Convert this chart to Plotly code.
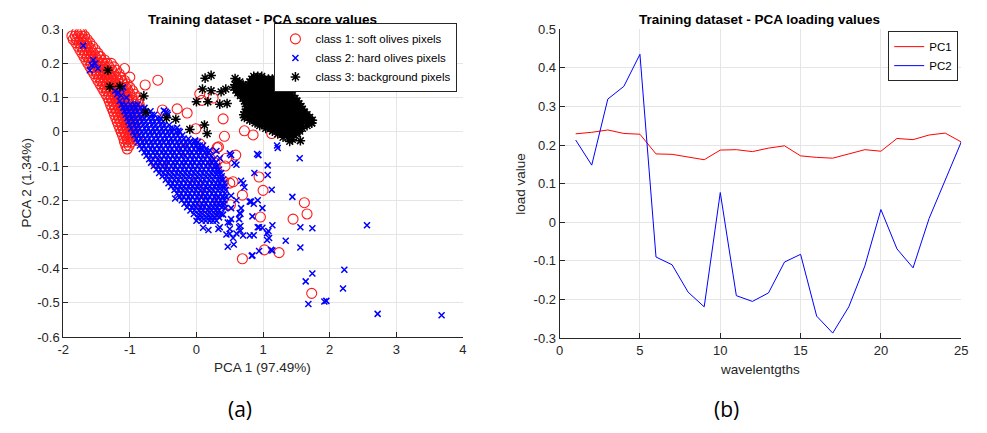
import plotly.graph_objects as go

# ---------------- DATA ----------------
# Class 1 (soft olives) dense band: (PCA2 value, [PCA1 values])
class1_band = [
    (0.29, [-1.80, -1.75, -1.72]),
    (0.28, [-1.87, -1.82, -1.77, -1.72, -1.68]),
    (0.27, [-1.85, -1.80, -1.74, -1.69, -1.64]),
    (0.26, [-1.81, -1.76, -1.70, -1.65, -1.60]),
    (0.25, [-1.78, -1.73, -1.67, -1.62, -1.56]),
    (0.24, [-1.75, -1.70, -1.64, -1.58, -1.52]),
    (0.23, [-1.72, -1.67, -1.61, -1.55, -1.48]),
    (0.22, [-1.69, -1.64, -1.58, -1.52, -1.46, -1.44]),
    (0.21, [-1.66, -1.61, -1.55, -1.49, -1.43, -1.38]),
    (0.20, [-1.63, -1.58, -1.52, -1.46, -1.40, -1.34, -1.28]),
    (0.19, [-1.60, -1.55, -1.49, -1.43, -1.37, -1.31, -1.24]),
    (0.18, [-1.57, -1.52, -1.46, -1.40, -1.34, -1.27, -1.20]),
    (0.17, [-1.54, -1.49, -1.43, -1.37, -1.31, -1.24, -1.16]),
    (0.16, [-1.51, -1.46, -1.40, -1.34, -1.28, -1.21, -1.14]),
    (0.15, [-1.48, -1.43, -1.37, -1.31, -1.25, -1.18, -1.12, -1.08]),
    (0.14, [-1.45, -1.40, -1.34, -1.28, -1.22, -1.16, -1.10, -1.04]),
    (0.13, [-1.42, -1.37, -1.31, -1.25, -1.19, -1.13, -1.06, -1.00]),
    (0.12, [-1.39, -1.34, -1.28, -1.22, -1.16, -1.10, -1.03, -0.96]),
    (0.11, [-1.36, -1.31, -1.25, -1.19, -1.13, -1.07, -1.00, -0.93]),
    (0.10, [-1.33, -1.28, -1.22, -1.16, -1.10, -1.04, -0.97, -0.90]),
    (0.09, [-1.31, -1.26, -1.20, -1.14, -1.08, -1.02, -0.95, -0.88]),
    (0.08, [-1.29, -1.24, -1.18, -1.12, -1.06, -1.00, -0.93, -0.86]),
    (0.07, [-1.27, -1.22, -1.16, -1.10, -1.04, -0.97, -0.91, -0.85]),
    (0.06, [-1.25, -1.20, -1.14, -1.08, -1.02, -0.95, -0.89]),
    (0.05, [-1.23, -1.18, -1.12, -1.06, -1.00, -0.93, -0.87]),
    (0.04, [-1.21, -1.16, -1.10, -1.04, -0.98, -0.92]),
    (0.03, [-1.19, -1.14, -1.08, -1.02, -0.96, -0.90]),
    (0.02, [-1.17, -1.12, -1.06, -1.00, -0.94]),
    (0.01, [-1.15, -1.10, -1.04, -0.98, -0.92]),
    (0.00, [-1.13, -1.08, -1.02, -0.96]),
    (-0.01, [-1.11, -1.06, -1.00, -0.95]),
    (-0.02, [-1.09, -1.04, -0.98]),
    (-0.03, [-1.08, -1.03, -0.98]),
    (-0.04, [-1.06, -1.01]),
    (-0.05, [-1.04]),
]
class1_out_x = [-1.08, -1.00, -0.77, -0.58, -0.51, -0.29, -0.14, -0.01, 0.05, 0.08, 0.25, 0.40,
                0.42, 0.72, 0.85, 1.13, 0.31, 0.59, 0.45, 0.28, 0.94, 0.55, 1.00, 0.69, 0.51,
                1.62, 1.66, 1.45, 0.96, 1.02, 1.24, 0.69, 1.73,
                -1.03, -0.88, -0.61, -0.19, 0.05, 0.20, 0.33, 0.43, 0.40, 0.50, 0.25, 0.35,
                0.15, 0.00, -0.40, 0.10]
class1_out_y = [0.185, 0.160, 0.137, 0.151, 0.064, 0.067, 0.055, 0.009, 0.111, 0.092, 0.099, 0.038,
                -0.013, 0.003, -0.009, -0.005, -0.046, -0.068, -0.077, -0.091, -0.132, -0.146, -0.171, -0.185, -0.213,
                -0.207, -0.240, -0.255, -0.249, -0.345, -0.353, -0.371, -0.472,
                -0.020, -0.025, -0.091, -0.054, -0.035, -0.077, -0.044, -0.100, -0.143, -0.150, -0.240, -0.200,
                -0.180, -0.150, -0.100, -0.220]

# Class 2 (hard olives) dense band
class2_band = [
    (0.08, [-1.12, -1.06, -0.99, -0.93, -0.88]),
    (0.07, [-1.10, -1.04, -0.97, -0.91, -0.84, -0.78]),
    (0.06, [-1.08, -1.02, -0.95, -0.89, -0.82, -0.76, -0.69]),
    (0.05, [-1.06, -0.99, -0.93, -0.86, -0.80, -0.73, -0.67, -0.63]),
    (0.04, [-1.04, -0.97, -0.91, -0.84, -0.78, -0.71, -0.65, -0.58, -0.54]),
    (0.03, [-1.02, -0.95, -0.89, -0.82, -0.76, -0.69, -0.63, -0.56, -0.50]),
    (0.02, [-1.00, -0.93, -0.87, -0.80, -0.74, -0.67, -0.61, -0.54, -0.48, -0.41]),
    (0.01, [-0.98, -0.91, -0.85, -0.78, -0.72, -0.65, -0.59, -0.52, -0.46, -0.39, -0.35]),
    (0.00, [-0.95, -0.89, -0.82, -0.76, -0.69, -0.63, -0.56, -0.50, -0.43, -0.37, -0.30, -0.25]),
    (-0.01, [-0.93, -0.86, -0.80, -0.73, -0.67, -0.60, -0.54, -0.47, -0.41, -0.34, -0.28, -0.21]),
    (-0.02, [-0.90, -0.84, -0.77, -0.71, -0.64, -0.58, -0.51, -0.45, -0.38, -0.32, -0.25, -0.19, -0.12]),
    (-0.03, [-0.88, -0.81, -0.75, -0.68, -0.62, -0.55, -0.49, -0.42, -0.36, -0.29, -0.23, -0.16, -0.10, -0.03, 0.02]),
    (-0.04, [-0.85, -0.79, -0.72, -0.66, -0.59, -0.53, -0.46, -0.40, -0.33, -0.27, -0.20, -0.14, -0.07, -0.01, 0.05, 0.10]),
    (-0.05, [-0.82, -0.76, -0.69, -0.63, -0.56, -0.50, -0.43, -0.37, -0.30, -0.24, -0.17, -0.11, -0.04, 0.02, 0.09, 0.14]),
    (-0.06, [-0.78, -0.72, -0.65, -0.59, -0.52, -0.46, -0.39, -0.33, -0.26, -0.20, -0.13, -0.07, 0.00, 0.06, 0.13, 0.18]),
    (-0.07, [-0.75, -0.69, -0.62, -0.56, -0.49, -0.43, -0.36, -0.30, -0.23, -0.17, -0.10, -0.04, 0.03, 0.09, 0.16, 0.22]),
    (-0.08, [-0.71, -0.65, -0.58, -0.52, -0.45, -0.39, -0.32, -0.26, -0.19, -0.13, -0.06, 0.00, 0.07, 0.13, 0.20, 0.26]),
    (-0.09, [-0.68, -0.61, -0.55, -0.48, -0.42, -0.35, -0.29, -0.22, -0.16, -0.09, -0.03, 0.04, 0.10, 0.17, 0.23, 0.29]),
    (-0.10, [-0.64, -0.58, -0.51, -0.45, -0.38, -0.32, -0.25, -0.19, -0.12, -0.06, 0.01, 0.07, 0.14, 0.20, 0.27, 0.31]),
    (-0.11, [-0.60, -0.54, -0.47, -0.41, -0.34, -0.28, -0.21, -0.15, -0.08, -0.02, 0.05, 0.11, 0.18, 0.24, 0.30, 0.34]),
    (-0.12, [-0.56, -0.50, -0.43, -0.37, -0.30, -0.24, -0.17, -0.11, -0.04, 0.02, 0.09, 0.15, 0.22, 0.28, 0.33, 0.37]),
    (-0.13, [-0.51, -0.45, -0.38, -0.32, -0.25, -0.19, -0.12, -0.06, 0.01, 0.07, 0.14, 0.20, 0.27, 0.33, 0.38]),
    (-0.14, [-0.46, -0.40, -0.33, -0.27, -0.20, -0.14, -0.07, -0.01, 0.06, 0.12, 0.19, 0.25, 0.32, 0.37, 0.40]),
    (-0.15, [-0.42, -0.36, -0.29, -0.23, -0.16, -0.10, -0.03, 0.03, 0.10, 0.16, 0.23, 0.29, 0.35, 0.42]),
    (-0.16, [-0.38, -0.32, -0.25, -0.19, -0.12, -0.06, 0.01, 0.07, 0.14, 0.20, 0.27, 0.33, 0.38, 0.42]),
    (-0.17, [-0.33, -0.27, -0.20, -0.14, -0.07, -0.01, 0.06, 0.12, 0.19, 0.25, 0.32, 0.38, 0.44]),
    (-0.18, [-0.29, -0.23, -0.16, -0.10, -0.03, 0.03, 0.10, 0.16, 0.23, 0.29, 0.36, 0.43]),
    (-0.19, [-0.25, -0.19, -0.12, -0.06, 0.01, 0.07, 0.14, 0.20, 0.27, 0.33, 0.39, 0.44]),
    (-0.20, [-0.22, -0.15, -0.09, -0.02, 0.04, 0.11, 0.17, 0.24, 0.30, 0.36, 0.42]),
    (-0.21, [-0.18, -0.12, -0.05, 0.01, 0.08, 0.14, 0.21, 0.27, 0.33, 0.38, 0.42]),
    (-0.22, [-0.14, -0.07, -0.01, 0.06, 0.12, 0.19, 0.25, 0.31, 0.38]),
    (-0.23, [-0.09, -0.03, 0.04, 0.10, 0.17, 0.23, 0.29, 0.34]),
    (-0.24, [-0.04, 0.03, 0.09, 0.16, 0.22, 0.28, 0.33, 0.37]),
    (-0.25, [0.02, 0.08, 0.15, 0.21, 0.27, 0.34]),
    (-0.26, [0.08, 0.14, 0.20, 0.25, 0.30]),
]
class2_out_x = [-1.70, -1.55, -1.60, -1.48, -1.57, -1.52, -1.19, -1.13, -1.15, -1.10, -1.03, -0.98, -1.22, -1.13,
                -1.17, -1.12, -1.08, -1.05,
                -0.46, -0.43, -0.49, -0.44, -0.29, -0.27, -0.02, 0.05, 0.20, 0.30, 0.35, 0.50, 0.52, 0.57,
                0.60, 0.91, 1.07, 1.07, 0.87, 1.13, 1.21, 1.22, 1.55, 1.44, 0.67, 0.72, 0.80, 0.60, 0.65,
                0.50, 0.35, 0.10, -0.32, 0.45, 0.60, 0.80, 0.94, 0.00, 0.18, 0.33,
                0.92, 0.99, 0.84, 0.92, 0.99, 1.06, 1.09, 1.14, 1.06, 0.84, 0.94, 1.14, 0.86, 0.70, 0.66,
                0.66, 0.56, 0.55, 0.47, 0.50, 0.50, 0.64, 0.64, 0.67, 0.66, 0.70, 0.52, 0.52, 0.40, 0.47,
                0.43, 1.08, 0.52, 0.82, 0.86, 0.93,
                1.56, 1.74, 1.56, 1.34, 2.22, 1.74, 1.64, 2.56, 2.20, 2.72, 3.68, 1.92, 1.95, 1.68, 1.12, 0.83]
class2_out_y = [0.252, 0.210, 0.180, 0.185, 0.195, 0.200, 0.110, 0.106, 0.090, 0.130, 0.069, 0.040, 0.120, 0.125,
                0.115, 0.080, 0.060, 0.100,
                0.059, 0.050, 0.062, 0.055, 0.012, 0.003, -0.025, -0.049, -0.054, -0.056, -0.077, -0.063, -0.068, -0.091,
                -0.096, -0.065, -0.098, -0.126, -0.120, -0.169, -0.040, -0.047, -0.077, -0.190, -0.143, -0.162, -0.204, -0.200, -0.237,
                -0.265, -0.279, -0.280, -0.195, -0.300, -0.297, -0.303, -0.279, -0.260, -0.287, -0.284,
                -0.200, -0.223, -0.247, -0.279, -0.280, -0.296, -0.310, -0.273, -0.316, -0.361, -0.348, -0.347, -0.302, -0.303, -0.289,
                -0.275, -0.329, -0.310, -0.336, -0.298, -0.284, -0.279, -0.255, -0.223, -0.240, -0.150, -0.223, -0.255, -0.242, -0.265,
                -0.223, -0.290, -0.187, -0.204, -0.210, -0.068,
                -0.279, -0.282, -0.338, -0.318, -0.403, -0.414, -0.437, -0.273, -0.458, -0.532, -0.536, -0.496, -0.494, -0.503, -0.345, -0.362]

# Class 3 (background) dense blob
class3_band = [
    (0.162, [0.86, 0.92, 0.98]),
    (0.154, [0.83, 0.89, 0.95, 1.02, 1.08, 1.14, 1.20]),
    (0.146, [0.60, 0.65, 0.80, 0.86, 0.92, 0.99, 1.05, 1.11, 1.18, 1.25]),
    (0.138, [0.58, 0.64, 0.70, 0.78, 0.84, 0.90, 0.96, 1.02, 1.09, 1.15, 1.21, 1.28]),
    (0.130, [0.56, 0.62, 0.68, 0.74, 0.81, 0.87, 0.93, 0.99, 1.06, 1.12, 1.18, 1.25, 1.33]),
    (0.122, [0.59, 0.65, 0.71, 0.78, 0.84, 0.90, 0.96, 1.03, 1.09, 1.15, 1.22, 1.29, 1.37]),
    (0.114, [0.62, 0.68, 0.74, 0.81, 0.87, 0.93, 1.00, 1.06, 1.12, 1.19, 1.26, 1.33, 1.41]),
    (0.106, [0.66, 0.72, 0.78, 0.84, 0.90, 0.97, 1.03, 1.09, 1.16, 1.22, 1.29, 1.36, 1.44]),
    (0.098, [0.70, 0.76, 0.82, 0.88, 0.94, 1.00, 1.07, 1.13, 1.19, 1.26, 1.33, 1.40, 1.48]),
    (0.090, [0.72, 0.78, 0.85, 0.91, 0.97, 1.04, 1.10, 1.16, 1.23, 1.30, 1.37, 1.44, 1.51]),
    (0.082, [0.74, 0.80, 0.87, 0.93, 0.99, 1.06, 1.12, 1.19, 1.26, 1.33, 1.40, 1.47, 1.54]),
    (0.074, [0.75, 0.82, 0.88, 0.95, 1.01, 1.08, 1.14, 1.21, 1.28, 1.35, 1.42, 1.49, 1.57]),
    (0.066, [0.76, 0.83, 0.89, 0.96, 1.02, 1.09, 1.16, 1.23, 1.30, 1.37, 1.44, 1.51, 1.59]),
    (0.058, [0.73, 0.79, 0.86, 0.92, 0.99, 1.05, 1.12, 1.19, 1.26, 1.33, 1.40, 1.47, 1.54, 1.62]),
    (0.050, [0.71, 0.77, 0.84, 0.90, 0.97, 1.03, 1.10, 1.17, 1.24, 1.31, 1.38, 1.45, 1.52, 1.60, 1.66]),
    (0.042, [0.72, 0.79, 0.86, 0.93, 1.00, 1.07, 1.14, 1.21, 1.28, 1.35, 1.42, 1.49, 1.56, 1.64, 1.70]),
    (0.034, [0.80, 0.87, 0.94, 1.01, 1.08, 1.15, 1.22, 1.29, 1.36, 1.43, 1.50, 1.57, 1.65, 1.74]),
    (0.026, [0.88, 0.95, 1.02, 1.09, 1.16, 1.23, 1.30, 1.37, 1.44, 1.51, 1.58, 1.66, 1.73]),
    (0.018, [0.95, 1.02, 1.09, 1.16, 1.23, 1.30, 1.37, 1.44, 1.51, 1.58, 1.66]),
    (0.010, [1.04, 1.11, 1.18, 1.25, 1.32, 1.39, 1.46, 1.53, 1.59]),
    (0.002, [1.14, 1.21, 1.28, 1.35, 1.42, 1.49, 1.55]),
    (-0.006, [1.22, 1.29, 1.36, 1.43, 1.50]),
    (-0.016, [1.30, 1.37, 1.44]),
    (-0.028, [1.40]),
]
class3_out_x = [-1.33, -1.30, -1.15, -0.79, -0.76, -0.45, -0.31, -0.10, 0.12, 0.16, 0.00, 0.09, 0.13,
                0.22, 0.22, 0.17, 0.35, 0.46, 0.37, 0.44, 0.58, 1.44, 1.73, 1.56]
class3_out_y = [0.180, 0.132, 0.133, 0.105, 0.057, 0.041, 0.037, 0.007, 0.020, -0.005, 0.088, 0.125, 0.157,
                0.165, 0.120, 0.088, 0.081, 0.083, 0.117, 0.125, 0.156, -0.022, 0.026, -0.026]

# Loadings
wavelengths = list(range(1, 26))
pc1 = [0.229, 0.233, 0.239, 0.230, 0.228, 0.177, 0.176, 0.169, 0.162, 0.187, 0.188, 0.183, 0.192,
       0.198, 0.172, 0.168, 0.166, 0.177, 0.188, 0.184, 0.217, 0.214, 0.226, 0.231, 0.208]
pc2 = [0.213, 0.148, 0.319, 0.352, 0.435, -0.090, -0.110, -0.181, -0.219, 0.077, -0.190, -0.205, -0.183,
       -0.103, -0.083, -0.243, -0.287, -0.219, -0.113, 0.033, -0.069, -0.118, 0.010, 0.110, 0.208]

left_xticks = [-2, -1, 0, 1, 2, 3, 4]
left_xticktext = ["-2", "-1", "0", "1", "2", "3", "4"]
left_yticks = [0.3, 0.2, 0.1, 0, -0.1, -0.2, -0.3, -0.4, -0.5, -0.6]
left_yticktext = ["0.3", "0.2", "0.1", "0", "-0.1", "-0.2", "-0.3", "-0.4", "-0.5", "-0.6"]
right_xticks = [0, 5, 10, 15, 20, 25]
right_yticks = [0.5, 0.4, 0.3, 0.2, 0.1, 0, -0.1, -0.2, -0.3]
right_yticktext = ["0.5", "0.4", "0.3", "0.2", "0.1", "0", "-0.1", "-0.2", "-0.3"]


def expand(rows, ox, oy):
    xs, ys = [], []
    for yv, row in rows:
        for xv in row:
            xs.append(xv)
            ys.append(yv)
    return xs + ox, ys + oy


c1x, c1y = expand(class1_band, class1_out_x, class1_out_y)
c2x, c2y = expand(class2_band, class2_out_x, class2_out_y)
c3x, c3y = expand(class3_band, class3_out_x, class3_out_y)

# ---------------- FIGURE ----------------
W, H = 987, 433


def fx(p):
    return p / W


def fy(p):
    return 1 - p / H


FONT = "Liberation Sans, Arial, sans-serif"
DARK = "#262626"

fig = go.Figure()
fig.add_trace(go.Scatter(x=c1x, y=c1y, mode="markers", name="class 1: soft olives pixels",
                         marker=dict(symbol="circle-open", size=10, color="#ff1a1a", line=dict(width=1.1, color="#ff1a1a")),
                         xaxis="x", yaxis="y", legend="legend"))
fig.add_trace(go.Scatter(x=c2x, y=c2y, mode="markers", name="class 2: hard olives pixels",
                         marker=dict(symbol="x-thin-open", size=6, color="#0000ff", line=dict(width=1.5, color="#0000ff")),
                         xaxis="x", yaxis="y", legend="legend"))
fig.add_trace(go.Scatter(x=c3x, y=c3y, mode="markers", name="class 3: background pixels",
                         marker=dict(symbol="asterisk-open", size=8, color="#000000", line=dict(width=1.5, color="#000000")),
                         xaxis="x", yaxis="y", legend="legend"))
fig.add_trace(go.Scatter(x=wavelengths, y=pc1, mode="lines", name="PC1",
                         line=dict(color="#ff0000", width=1), xaxis="x2", yaxis="y2", legend="legend2"))
fig.add_trace(go.Scatter(x=wavelengths, y=pc2, mode="lines", name="PC2",
                         line=dict(color="#0000ff", width=1), xaxis="x2", yaxis="y2", legend="legend2"))

axis_style = dict(showline=True, linecolor=DARK, linewidth=1, mirror=False,
                  ticks="inside", ticklen=5, tickwidth=1, tickcolor=DARK,
                  showgrid=True, gridcolor="#e5e5e5", gridwidth=1, zeroline=False,
                  tickfont=dict(family=FONT, size=13, color=DARK), fixedrange=True)

fig.update_layout(
    width=W, height=H, margin=dict(l=0, r=0, t=0, b=0),
    paper_bgcolor="white", plot_bgcolor="white", showlegend=True,
    xaxis=dict(domain=[fx(58), fx(463)], range=[-2, 4], tickvals=left_xticks, ticktext=left_xticktext,
               anchor="y", **axis_style),
    yaxis=dict(domain=[fy(342), fy(23)], range=[-0.6, 0.3], tickvals=left_yticks, ticktext=left_yticktext,
               anchor="x", **axis_style),
    xaxis2=dict(domain=[fx(561), fx(968)], range=[0, 25], tickvals=right_xticks,
                anchor="y2", **axis_style),
    yaxis2=dict(domain=[fy(343), fy(23)], range=[-0.3, 0.5], tickvals=right_yticks, ticktext=right_yticktext,
                anchor="x2", **axis_style),
    legend=dict(x=fx(272), y=fy(17), xanchor="left", yanchor="top", bgcolor="white",
                bordercolor=DARK, borderwidth=1, font=dict(family=FONT, size=11.5, color="#000"),
                tracegroupgap=0, itemclick=False),
    legend2=dict(x=fx(894), y=fy(25), xanchor="left", yanchor="top", bgcolor="white",
                 bordercolor=DARK, borderwidth=1, font=dict(family=FONT, size=11.5, color="#000"),
                 tracegroupgap=0, itemclick=False),
)

ann = [
    dict(text="<b>Training dataset - PCA score values</b>", x=fx(260), y=fy(13), size=13.5, color="#000"),
    dict(text="<b>Training dataset - PCA loading values</b>", x=fx(764), y=fy(13), size=13.5, color="#000"),
    dict(text="PCA 1 (97.49%)", x=fx(260), y=fy(373), size=13.5, color=DARK),
    dict(text="wavelentgths", x=fx(764), y=fy(375), size=13.5, color=DARK),
    dict(text="PCA 2 (1.34%)", x=fx(21), y=fy(182), size=13.5, color=DARK, angle=-90),
    dict(text="load value", x=fx(522), y=fy(183), size=13.5, color=DARK, angle=-90),
]
for a in ann:
    fig.add_annotation(text=a["text"], x=a["x"], y=a["y"], xref="paper", yref="paper",
                       xanchor="center", yanchor="middle", showarrow=False,
                       textangle=a.get("angle", 0),
                       font=dict(family=FONT, size=a["size"], color=a["color"]))

for lbl, xc in [("(a)", 237), ("(b)", 730)]:
    fig.add_annotation(text=lbl, x=fx(xc), y=fy(416), xref="paper", yref="paper",
                       xanchor="center", yanchor="middle", showarrow=False,
                       font=dict(family="Open Sans, sans-serif", size=21, color="#000"))

fig.write_html("out.html")
